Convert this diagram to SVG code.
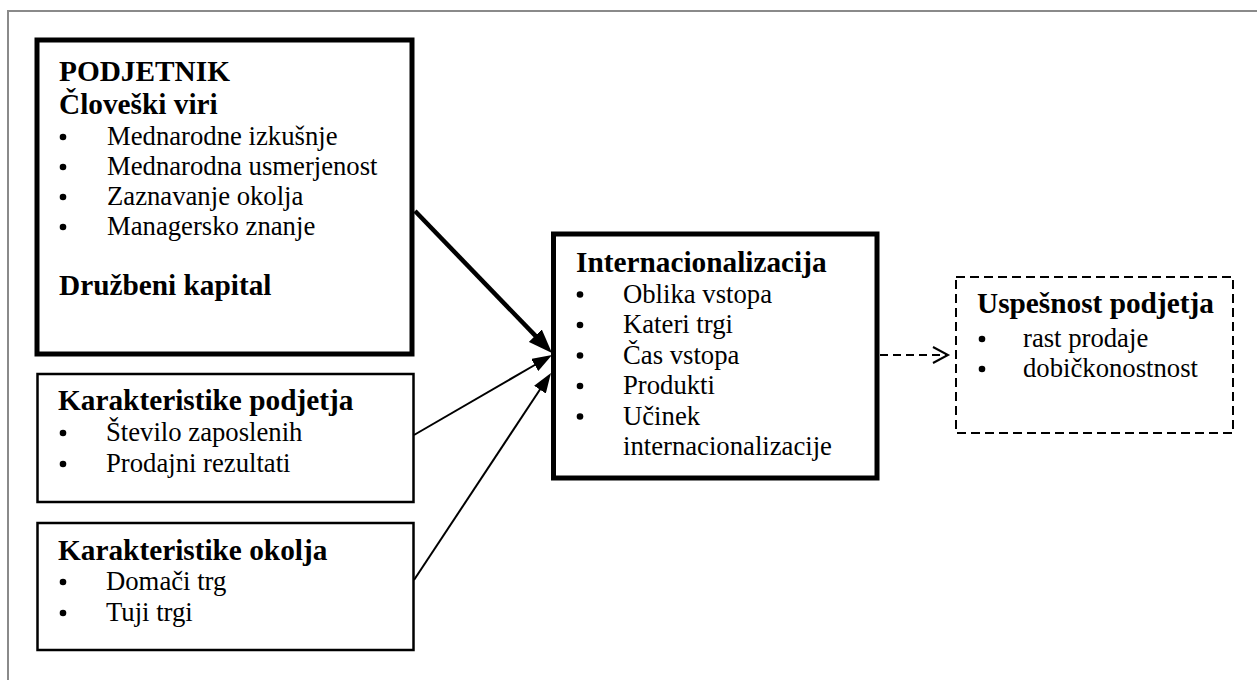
<svg xmlns="http://www.w3.org/2000/svg" width="1257" height="680" viewBox="0 0 1257 680">
<style>
text{font-family:"Liberation Serif","Times New Roman",serif;fill:#000}
.t{font-weight:bold;font-size:29.3px}
.i{font-size:26.7px}
.dot{fill:#000}
.box{fill:#fff;stroke:#000}
.thick{stroke-width:5}
.thin{stroke-width:2.5}
.dash{stroke-width:2;stroke-dasharray:9,5}
.conn{fill:none;stroke:#000}
</style>
<defs>
<circle id="bul" r="3.3" class="dot"/>
<marker id="ahThick" markerUnits="userSpaceOnUse" markerWidth="24" markerHeight="18" refX="1" refY="9" orient="auto" viewBox="0 0 24 18"><path d="M0,0 L24,9 L0,18 z" fill="#000"/></marker>
<marker id="ahThin" markerUnits="userSpaceOnUse" markerWidth="20" markerHeight="14" refX="1" refY="7" orient="auto" viewBox="0 0 20 14"><path d="M0,0 L20,7 L0,14 z" fill="#000"/></marker>
</defs>
<rect x="0" y="0" width="1257" height="680" fill="#fff"/>
<rect x="8" y="11" width="1300" height="720" fill="none" stroke="#8a8a8a" stroke-width="2"/>

<g id="connectors">
<line class="conn" x1="415" y1="211" x2="536" y2="336.4" stroke-width="4.5" marker-end="url(#ahThick)"/>
<line class="conn" x1="414" y1="435" x2="535.6" y2="364.5" stroke-width="2" marker-end="url(#ahThin)"/>
<line class="conn" x1="414" y1="580" x2="540.5" y2="388.8" stroke-width="2" marker-end="url(#ahThin)"/>
<line class="conn" x1="880" y1="355" x2="948" y2="355" stroke-width="2" stroke-dasharray="8,5"/>
<path class="conn" d="M933,347 L948,355 L933,363" stroke-width="2"/>
</g>

<g id="podjetnik">
<rect class="box thick" x="37" y="40" width="375" height="314"/>
<text class="t" x="59" y="81">PODJETNIK</text>
<text class="t" x="59" y="114">Človeški viri</text>
<use href="#bul" x="63" y="137"/><text class="i" x="107" y="145">Mednarodne izkušnje</text>
<use href="#bul" x="63" y="167"/><text class="i" x="107" y="175">Mednarodna usmerjenost</text>
<use href="#bul" x="63" y="197"/><text class="i" x="107" y="205">Zaznavanje okolja</text>
<use href="#bul" x="63" y="227"/><text class="i" x="107" y="235">Managersko znanje</text>
<text class="t" x="59" y="295">Družbeni kapital</text>
</g>

<g id="karakteristike-podjetja">
<rect class="box thin" x="37.5" y="374" width="376" height="128"/>
<text class="t" x="58" y="410">Karakteristike podjetja</text>
<use href="#bul" x="63" y="433"/><text class="i" x="106" y="441">Število zaposlenih</text>
<use href="#bul" x="63" y="464"/><text class="i" x="106" y="472">Prodajni rezultati</text>
</g>

<g id="karakteristike-okolja">
<rect class="box thin" x="37.5" y="523" width="376" height="127"/>
<text class="t" x="58" y="560">Karakteristike okolja</text>
<use href="#bul" x="63" y="582"/><text class="i" x="106" y="590">Domači trg</text>
<use href="#bul" x="63" y="613"/><text class="i" x="106" y="621">Tuji trgi</text>
</g>

<g id="internacionalizacija">
<rect class="box thick" x="553.5" y="234" width="323.5" height="244"/>
<text class="t" x="576" y="272">Internacionalizacija</text>
<use href="#bul" x="580" y="294.5"/><text class="i" x="623" y="302.5">Oblika vstopa</text>
<use href="#bul" x="580" y="325"/><text class="i" x="623" y="333">Kateri trgi</text>
<use href="#bul" x="580" y="355.5"/><text class="i" x="623" y="363.5">Čas vstopa</text>
<use href="#bul" x="580" y="386"/><text class="i" x="623" y="394">Produkti</text>
<use href="#bul" x="580" y="416.5"/><text class="i" x="623" y="424.5">Učinek</text>
<text class="i" x="623" y="455">internacionalizacije</text>
</g>

<g id="uspesnost">
<rect class="box dash" x="956" y="277" width="277" height="156"/>
<text class="t" x="977" y="313">Uspešnost podjetja</text>
<use href="#bul" x="982" y="339"/><text class="i" x="1023" y="347">rast prodaje</text>
<use href="#bul" x="982" y="369"/><text class="i" x="1023" y="377">dobičkonostnost</text>
</g>
</svg>
